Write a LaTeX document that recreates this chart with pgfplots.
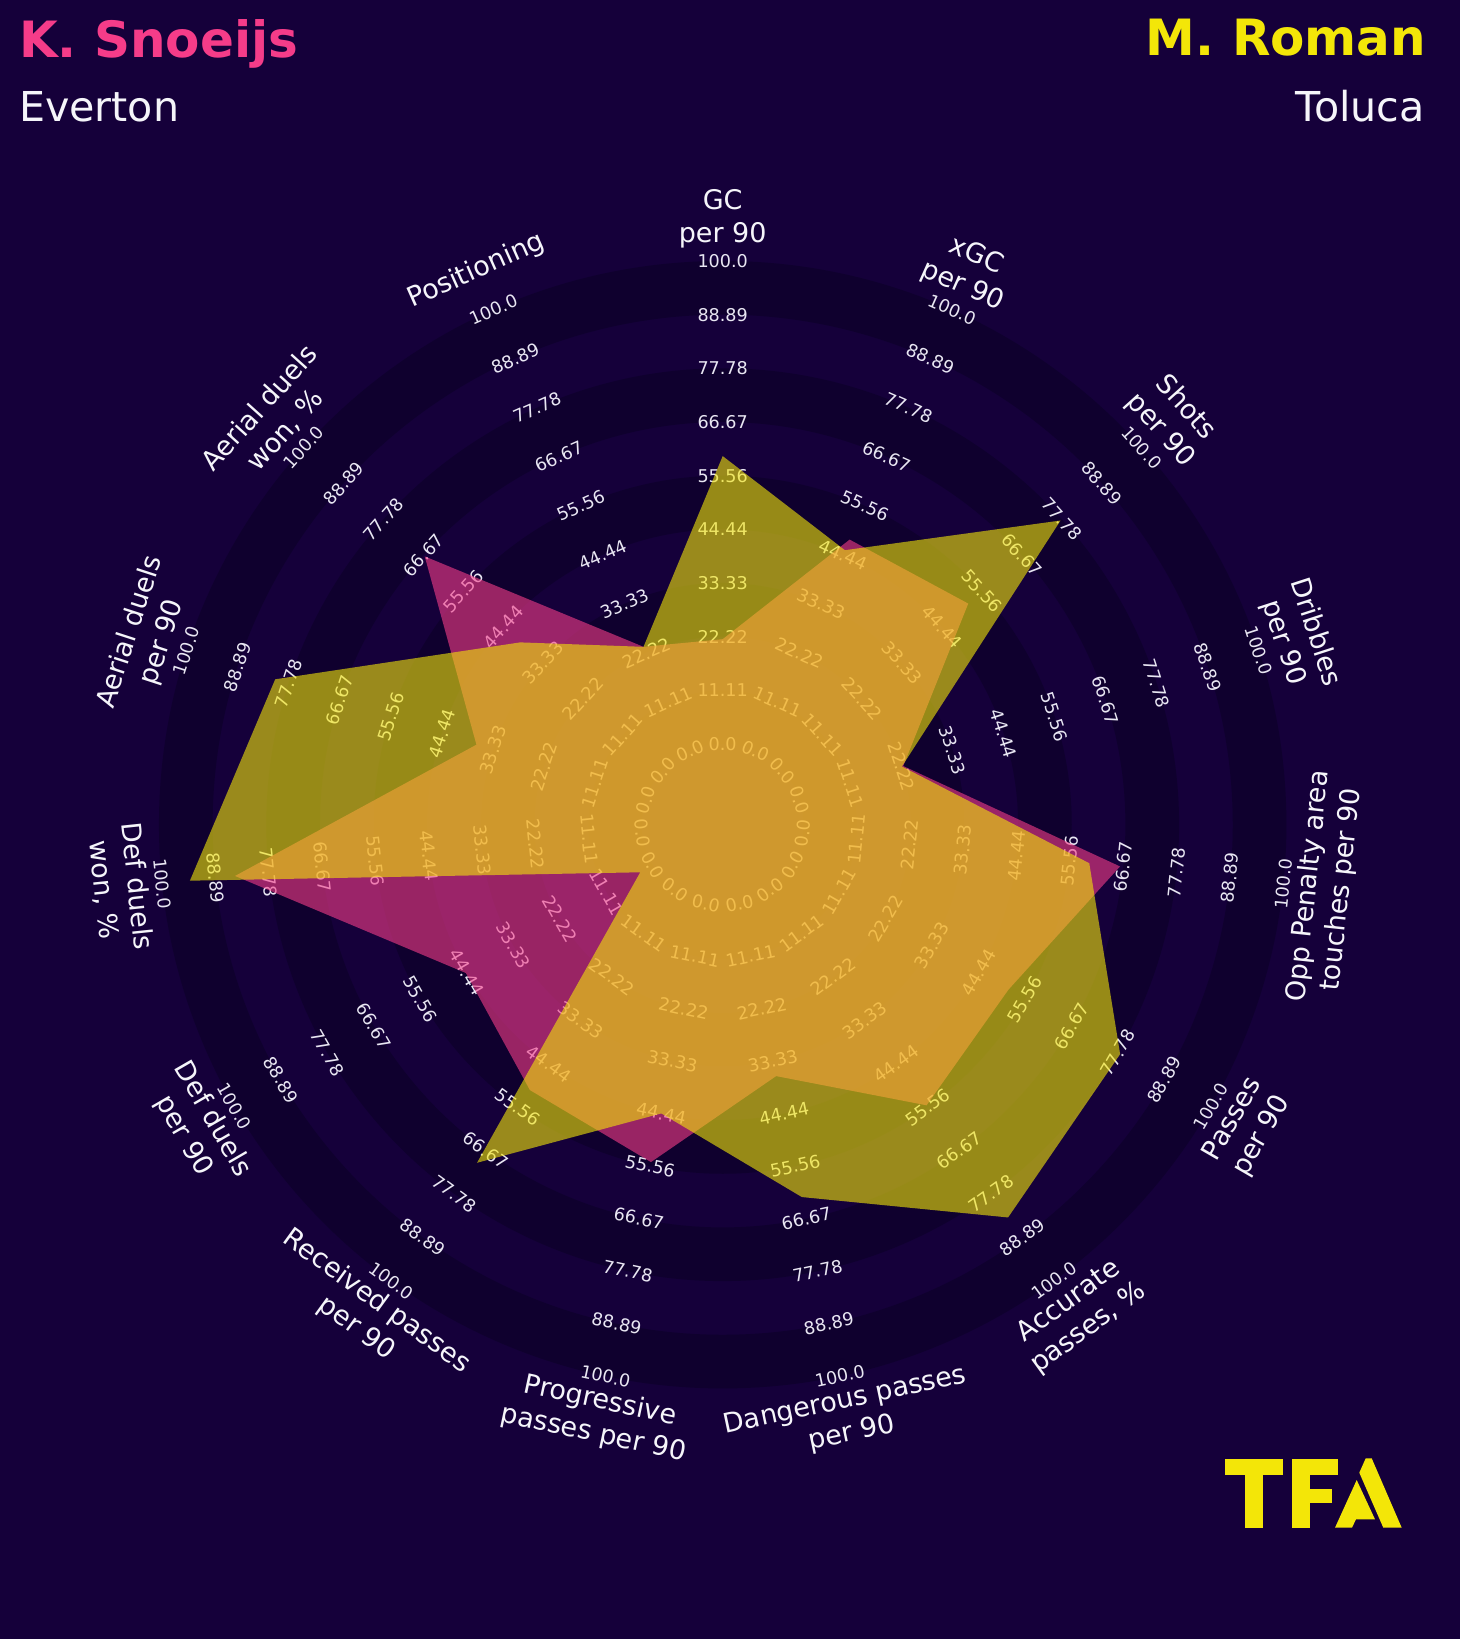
\documentclass[border=0pt]{standalone}
\usepackage{pgfplots}
\pgfplotsset{compat=1.18}
\usepackage{pgfplotstable}
\usepackage{fontspec}
\setmainfont{DejaVu Sans}
\definecolor{bg}{RGB}{21,0,58}
\definecolor{ringc}{RGB}{15,0,46}
\definecolor{pinkc}{RGB}{245,60,137}
\definecolor{yelc}{RGB}{243,230,8}
\definecolor{lab}{RGB}{232,230,242}
\definecolor{txt}{RGB}{245,245,250}
\newcommand\rangefont{\fontsize{8.8}{10}\selectfont}
\newcommand\paramfont{\fontsize{13.5}{16.7}\selectfont}
\newcommand\titlefont{\fontsize{25}{30}\selectfont\bfseries}
\newcommand\subfont{\fontsize{20.6}{25}\selectfont}

% K. Snoeijs (pink)
\pgfplotstableread{
ang v
90 21.7
66 47.9
42 51.7
18 22.6
-6 66.0
-30 51.6
-54 55.1
-78 36.5
-102 54.7
-126 51.2
-150 44.7
-174 84.8
-198 36.9
-222 66.3
-246 23.6
90 21.7
}\pinkdata

% M. Roman (yellow)
\pgfplotstableread{
ang v
90 59.6
66 45.5
42 77.4
18 22.3
-6 59.6
-30 78.3
-54 83.8
-78 62.1
-102 44.4
-126 69.8
-150 3.0
-174 94.2
-198 80.7
-222 39.7
-246 23.6
90 59.6
}\yeldata

\begin{document}
\begin{tikzpicture}[x=0.5pt,y=0.5pt]
% background
\fill[bg] (-722.7,-814.3) rectangle (737.3,824.7);
% rings
\fill[ringc, even odd rule] (0,0) circle[radius=563.73] (0,0) circle[radius=510.06];
\fill[ringc, even odd rule] (0,0) circle[radius=456.39] (0,0) circle[radius=402.72];
\fill[ringc, even odd rule] (0,0) circle[radius=349.05] (0,0) circle[radius=295.38];
\fill[ringc, even odd rule] (0,0) circle[radius=241.71] (0,0) circle[radius=188.04];
\fill[ringc, even odd rule] (0,0) circle[radius=134.37] (0,0) circle[radius=80.7];
% range labels
\foreach \i in {0,...,14}{
  \pgfmathsetmacro\a{90-24*\i}
  \pgfmathsetmacro\rot{sin(\a)>=0 ? \a-90 : \a+90}
  \foreach \k/\t in {0/0.0,1/11.11,2/22.22,3/33.33,4/44.44,5/55.56,6/66.67,7/77.78,8/88.89,9/100.0}{
    \pgfmathsetmacro\r{80.7+53.67*\k}
    \node[rotate=\rot, text=lab, inner sep=0, font=\rangefont] at (\a:\r) {\t};
  }
}
% parameter labels
\foreach \i/\t in {0/{GC\\per 90},1/{xGC\\per 90},2/{Shots\\per 90},3/{Dribbles\\per 90},4/{Opp Penalty area\\touches per 90},5/{Passes\\per 90},6/{Accurate\\passes, \%},7/{Dangerous passes\\per 90},8/{Progressive\\passes per 90},9/{Received passes\\per 90},10/{Def duels\\per 90},11/{Def duels\\won, \%},12/{Aerial duels\\per 90},13/{Aerial duels\\won, \%},14/{Positioning}}{
  \pgfmathsetmacro\a{90-24*\i}
  \pgfmathsetmacro\rot{sin(\a)>=0 ? \a-90 : \a+90}
  \node[rotate=\rot, align=center, text=txt, inner sep=0, font=\paramfont] at (\a:606) {\t};
}
% titles
\node[anchor=base west, inner sep=0, text=pinkc, font=\titlefont] at (-704,767.4) {K. Snoeijs};
\node[anchor=base west, inner sep=0, text=txt, font=\subfont] at (-704,703) {Everton};
\node[anchor=base east, inner sep=0, text=yelc, font=\titlefont] at (704,768.7) {M. Roman};
\node[anchor=base east, inner sep=0, text=txt, font=\subfont] at (702.5,703) {Toluca};
% TFA logo
\fill[yelc] (502.3,-634.6) rectangle (560.6,-650.3);
\fill[yelc] (522.3,-650.3) rectangle (540.6,-703);
\fill[yelc] (569,-634.6) rectangle (587.3,-703);
\fill[yelc] (587.3,-634.6) rectangle (615.6,-650.3);
\fill[yelc] (587.3,-664.6) rectangle (609,-678.6);
\fill[yelc] (636.6,-648) -- (643,-633.6) -- (649,-633.6) -- (679,-703) -- (660.6,-703) -- cycle;
\fill[yelc] (612.3,-703) -- (634,-655.3) -- (652.3,-694.6) -- (633.3,-694.6) -- (629.3,-703) -- cycle;

\begin{axis}[x=0.5pt, y=0.5pt, at={(0,0)}, anchor=origin,
  xmin=-722.7, xmax=737.3, ymin=-814.3, ymax=824.7,
  hide axis, clip=false]
\addplot[draw=none, mark=none, fill=pinkc, fill opacity=0.6]
  table[x expr={(80.7+4.8303*\thisrow{v})*cos(\thisrow{ang})},
        y expr={(80.7+4.8303*\thisrow{v})*sin(\thisrow{ang})}] {\pinkdata};
\addplot[draw=none, mark=none, fill=yelc, fill opacity=0.6]
  table[x expr={(80.7+4.8303*\thisrow{v})*cos(\thisrow{ang})},
        y expr={(80.7+4.8303*\thisrow{v})*sin(\thisrow{ang})}] {\yeldata};
\end{axis}
\end{tikzpicture}
\end{document}
